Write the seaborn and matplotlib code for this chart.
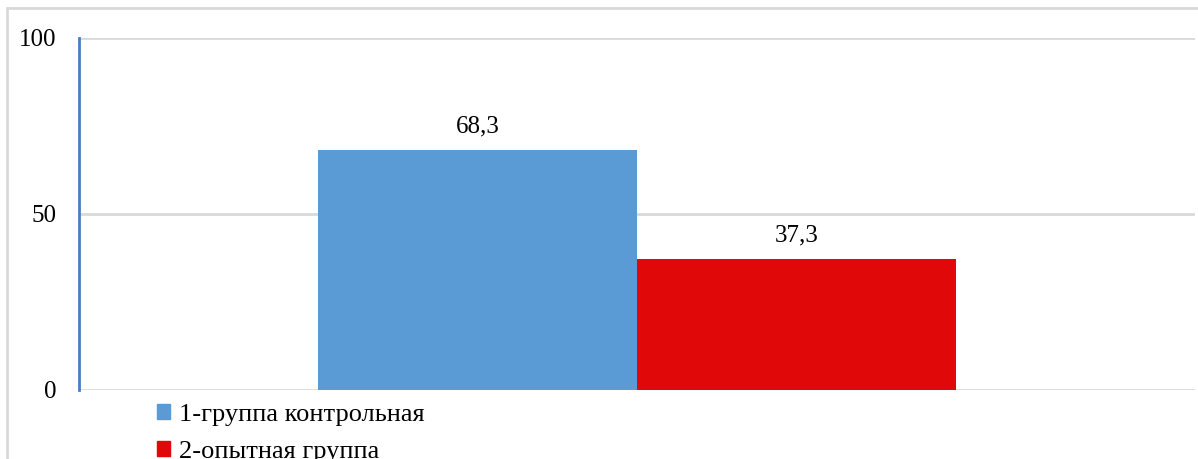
import matplotlib
matplotlib.use("Agg")
import matplotlib.pyplot as plt
from matplotlib.patches import Rectangle
import seaborn as sns
import pandas as pd

# Data
groups = ["1-группа контрольная", "2-опытная группа"]
values = [68.3, 37.3]
value_labels = ["68,3", "37,3"]
colors = ["#5b9bd5", "#e00808"]
y_ticks = [0, 50, 100]

sns.set_theme(style="white")
plt.rcParams["font.family"] = ["Liberation Serif", "DejaVu Serif"]
plt.rcParams["text.color"] = "black"
plt.rcParams["ytick.color"] = "black"

fig = plt.figure(figsize=(11.98, 4.59), dpi=100)
fig.patch.set_facecolor("white")

# Outer chart frame
fig.patches.append(Rectangle((7 / 1198, -0.2), 1.2, 1 + 0.2 - 8 / 459,
                             transform=fig.transFigure, fill=False,
                             edgecolor="#d9d9d9", linewidth=2, zorder=0))

ax = fig.add_axes([79 / 1198, 69 / 459, 1116 / 1198, 352 / 459])

df = pd.DataFrame({"cat": [""] * len(groups), "group": groups, "value": values})
sns.barplot(data=df, x="cat", y="value", hue="group", palette=colors,
            width=0.572, saturation=1, linewidth=0, ax=ax, legend=False)

ax.set_xlim(-0.5, 0.5)
ax.set_ylim(0, 100)
ax.set_yticks(y_ticks)
ax.set_yticklabels([str(t) for t in y_ticks], fontsize=18, color="black")
ax.tick_params(axis="y", length=0, pad=16)
ax.set_xticks([])
ax.set_xlabel("")
ax.set_ylabel("")

for y in y_ticks:
    ax.axhline(y, color="#d9d9d9", linewidth=2, zorder=0)

for s in ["top", "right", "bottom"]:
    ax.spines[s].set_visible(False)
ax.spines["left"].set_color("#4a7ebb")
ax.spines["left"].set_linewidth(2)
ax.spines["left"].set_zorder(3)

for bar, lab in zip(ax.patches, value_labels):
    ax.annotate(lab, (bar.get_x() + bar.get_width() / 2, bar.get_height()),
                xytext=(0, 9), textcoords="offset points",
                ha="center", va="bottom", fontsize=18, color="black")

handles = [Rectangle((0, 0), 1, 1, color=c) for c in colors]
leg = fig.legend(handles, groups, loc="upper left",
                 bbox_to_anchor=(157 / 1198, 1 - 404 / 459),
                 frameon=False, fontsize=19, handlelength=0.5, handleheight=0.5,
                 handletextpad=0.35, labelspacing=0.55, borderaxespad=0,
                 borderpad=0)
for t in leg.get_texts():
    t.set_color("black")

fig.savefig("out.png", dpi=100)
